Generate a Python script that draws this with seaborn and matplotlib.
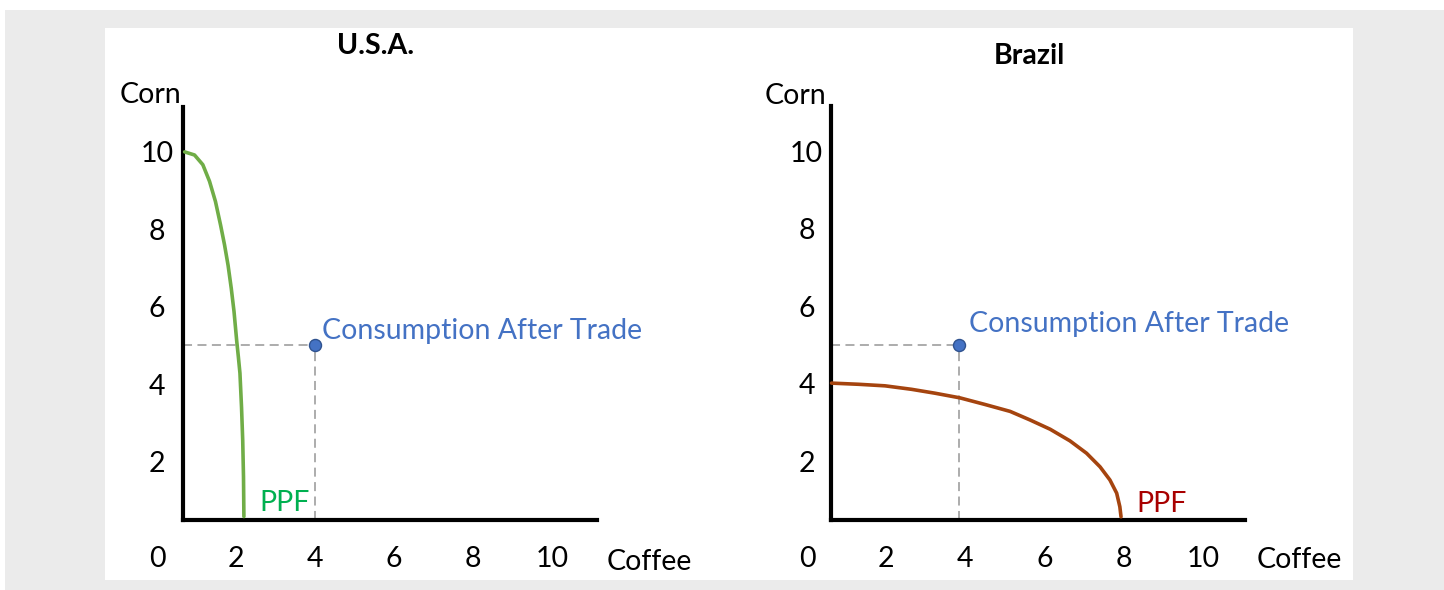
import matplotlib
matplotlib.use("Agg")
import matplotlib.pyplot as plt
import seaborn as sns
import pandas as pd
from matplotlib.patches import Rectangle

sns.set_style("white")
plt.rcParams['font.family'] = ['Lato', 'DejaVu Sans']
plt.rcParams['font.size'] = 20.5
plt.rcParams['text.color'] = 'black'
plt.rcParams['xtick.color'] = 'black'
plt.rcParams['ytick.color'] = 'black'

# Data
tick_vals = [0, 2, 4, 6, 8, 10]
ytick_vals = [2, 4, 6, 8, 10]

usa_coffee = [0.70, 0.95, 1.16, 1.33, 1.48, 1.61, 1.71, 1.80, 1.88, 1.95, 2.02, 2.06, 2.10, 2.14, 2.17, 2.19, 2.20]
usa_corn = [9.99, 9.91, 9.66, 9.23, 8.71, 8.10, 7.59, 7.06, 6.47, 5.87, 5.09, 4.70, 4.28, 3.40, 2.55, 1.60, 0.58]
usa_consumption = (4.0, 5.0)

brazil_coffee = [0.62, 1.30, 1.97, 2.64, 3.23, 3.86, 4.49, 5.13, 5.63, 6.14, 6.64, 7.06, 7.40, 7.65, 7.82, 7.90, 7.93]
brazil_corn = [4.01, 3.98, 3.94, 3.85, 3.75, 3.63, 3.46, 3.28, 3.06, 2.82, 2.52, 2.20, 1.85, 1.51, 1.17, 0.82, 0.56]
brazil_consumption = (3.85, 5.0)

fig = plt.figure(figsize=(14.44, 5.9), dpi=100)
fig.patch.set_facecolor("white")
fig.patches.append(Rectangle((5 / 1444, 0), 1, 580 / 590, transform=fig.transFigure,
                             facecolor="#ebebeb", edgecolor="none", zorder=-10))
fig.patches.append(Rectangle((105 / 1444, 10 / 590), 1248 / 1444, 552 / 590, transform=fig.transFigure,
                             facecolor="white", edgecolor="none", zorder=-9))

panels = [
    dict(name="U.S.A.", rect=[0.06925, 0.008475, 0.42936, 0.95763], xlim=(-1.443, 14.253), ylim=(-1.187, 13.394),
         x=usa_coffee, y=usa_corn, pt=usa_consumption, color="#70AD47", ppf_color="#00B050",
         spine=(0.66, 0.49, 11.14, 11.15), ypad=18.7, title_xy=(5.54, 12.52), text_xy=(4.18, 5.15),
         ppf_xy=(2.59, 0.73), corn_xy=(-0.94, 11.25), coffee_xy=(11.39, -0.80)),
    dict(name="Brazil", rect=[0.52632, 0.008475, 0.44321, 0.95763], xlim=(-1.187, 14.975), ylim=(-1.2, 13.381),
         x=brazil_coffee, y=brazil_corn, pt=brazil_consumption, color="#A5440F", ppf_color="#A80000",
         spine=(0.60, 0.48, 11.06, 11.15), ypad=17.3, title_xy=(5.62, 12.24), text_xy=(4.08, 5.34),
         ppf_xy=(8.33, 0.69), corn_xy=(-1.06, 11.21), coffee_xy=(11.36, -0.76)),
]

for p in panels:
    ax = fig.add_axes(p["rect"])
    ax.set_facecolor("none")
    ax.set_xlim(*p["xlim"])
    ax.set_ylim(*p["ylim"])
    x0, y0, x1, y1 = p["spine"]

    df = pd.DataFrame({"Coffee": p["x"], "Corn": p["y"]})
    sns.lineplot(data=df, x="Coffee", y="Corn", ax=ax, color=p["color"], linewidth=2.6,
                 sort=False, estimator=None, zorder=3)

    cx, cy = p["pt"]
    ax.plot([x0, cx], [cy, cy], color="#A6A6A6", lw=1.3, ls=(0, (5, 3)), zorder=2)
    ax.plot([cx, cx], [y0, cy], color="#A6A6A6", lw=1.3, ls=(0, (5, 3)), zorder=2)
    sns.scatterplot(x=[cx], y=[cy], ax=ax, s=75, color="#4472C4", edgecolor="#2F528F",
                    linewidth=1, zorder=4)

    for side in ["top", "right"]:
        ax.spines[side].set_visible(False)
    ax.spines["left"].set_position(("data", x0))
    ax.spines["left"].set_bounds(y0, y1)
    ax.spines["bottom"].set_position(("data", y0))
    ax.spines["bottom"].set_bounds(x0, x1)
    for side in ["left", "bottom"]:
        ax.spines[side].set_linewidth(3)
        ax.spines[side].set_color("black")
        ax.spines[side].set_capstyle("projecting")

    ax.set_xticks(tick_vals)
    ax.set_yticks(ytick_vals)
    ax.tick_params(axis="x", length=0, pad=19, labelsize=20.5)
    ax.tick_params(axis="y", length=0, pad=p["ypad"], labelsize=20.5)
    plt.setp(ax.get_yticklabels(), ha="center")
    ax.set_xlabel("")
    ax.set_ylabel("")
    ax.grid(False)

    ax.text(*p["title_xy"], p["name"], ha="center", va="baseline", fontweight="bold", fontsize=20.5)
    ax.text(*p["text_xy"], "Consumption After Trade", ha="left", va="baseline", color="#4472C4", fontsize=20.5)
    ax.text(*p["ppf_xy"], "PPF", ha="left", va="baseline", color=p["ppf_color"], fontsize=20.5)
    ax.text(*p["corn_xy"], "Corn", ha="left", va="baseline", fontsize=20.5)
    ax.text(*p["coffee_xy"], "Coffee", ha="left", va="baseline", fontsize=20.5)

plt.savefig("out.png", dpi=100)
